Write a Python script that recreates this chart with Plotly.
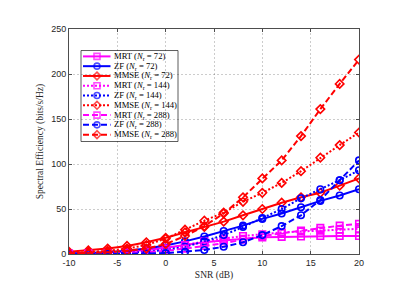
import plotly.graph_objects as go

snr = [-10, -8, -6, -4, -2, 0, 2, 4, 6, 8, 10, 12, 14, 16, 18, 20]

mrt_72 = [0.5, 1, 1.5, 3, 4.5, 7, 10, 13, 15, 17, 18.5, 19, 19.5, 20, 20, 20]
zf_72 = [0.5, 1, 2, 3.5, 6, 9.5, 14, 19.5, 25.5, 31.5, 39, 45, 52, 59, 65, 72]
mmse_72 = [2.5, 4, 6, 9, 13, 18, 24, 30, 36, 43, 50, 57, 63, 68, 76, 84]
mrt_144 = [0.3, 0.7, 1.2, 2.2, 3.5, 6, 10, 14, 17, 20, 22, 24, 25, 26, 27, 28]
zf_144 = [0.1, 0.3, 0.6, 1.2, 2.5, 4.5, 8, 14, 21, 30, 40, 50, 62, 72, 82, 93]
mmse_144 = [1, 2, 3.5, 6, 10, 17, 27, 37, 46, 58, 68, 79, 92, 107, 121, 135]
mrt_288 = [0.1, 0.3, 0.6, 1.2, 2, 3.5, 6, 9, 12, 16, 20, 23, 26, 29, 31.5, 33.5]
zf_288 = [0.02, 0.05, 0.1, 0.2, 0.5, 1, 2.5, 4.5, 8, 13, 21, 31, 43, 60, 82, 104]
mmse_288 = [0.5, 1, 2, 3.5, 6, 11, 20, 31, 45, 63, 84, 104, 131, 161, 189, 216]

x_ticks = [-10, -5, 0, 5, 10, 15, 20]
x_tick_text = ["-10", "-5", "0", "5", "10", "15", "20"]
y_ticks = [0, 50, 100, 150, 200, 250]
y_tick_text = ["0", "50", "100", "150", "200", "250"]

MAG, BLU, RED = "#ff00ff", "#0000ff", "#ff0000"
SOLID, DOT, DASH = "solid", "2px,2px", "6px,3px"

series = [
    ("MRT", 72, mrt_72, MAG, SOLID, "square-open"),
    ("ZF", 72, zf_72, BLU, SOLID, "circle-open"),
    ("MMSE", 72, mmse_72, RED, SOLID, "diamond-open"),
    ("MRT", 144, mrt_144, MAG, DOT, "square-open"),
    ("ZF", 144, zf_144, BLU, DOT, "circle-open"),
    ("MMSE", 144, mmse_144, RED, DOT, "diamond-open"),
    ("MRT", 288, mrt_288, MAG, DASH, "square-open"),
    ("ZF", 288, zf_288, BLU, DASH, "circle-open"),
    ("MMSE", 288, mmse_288, RED, DASH, "diamond-open"),
]

SERIF = "Liberation Serif, Times New Roman, serif"
SANS = "Liberation Sans, Arial, sans-serif"

fig = go.Figure()
for name, nr, vals, col, dash, sym in series:
    fig.add_trace(go.Scatter(
        x=snr, y=vals, mode="lines+markers", showlegend=False,
        line=dict(color=col, width=2, dash=dash),
        marker=dict(symbol=sym, size=6.5, color=col, line=dict(color=col, width=1.6)),
    ))

# custom legend in pixel-like coordinates (overlay axes)
L_X0, L_X1, L_Y0, L_Y1 = 73, 170, 43, 136
row0, row_step = 49, 10
fig.add_shape(type="rect", xref="x2", yref="y2", x0=L_X0, x1=L_X1, y0=L_Y0, y1=L_Y1,
              line=dict(color="#333333", width=0.8), fillcolor="white", layer="below")
for i, (name, nr, vals, col, dash, sym) in enumerate(series):
    ry = row0 + i * row_step
    fig.add_trace(go.Scatter(
        x=[75, 89, 102.5], y=[ry, ry, ry], xaxis="x2", yaxis="y2",
        mode="lines+markers", showlegend=False, hoverinfo="skip",
        line=dict(color=col, width=2, dash=dash),
        marker=dict(symbol=sym, size=[0, 6, 0], color=col, line=dict(color=col, width=1.6)),
    ))
    fig.add_annotation(xref="x2", yref="y2", x=103.5, y=ry, xanchor="left", yanchor="middle",
                       showarrow=False,
                       text=f"{name} (<i>N</i><sub>r</sub> = {nr})",
                       font=dict(family=SERIF, size=8.6, color="#000000"))

axis_common = dict(showline=True, linecolor="#4d4d4d", linewidth=1, mirror="ticks",
                   ticks="inside", ticklen=3, tickcolor="#4d4d4d",
                   showgrid=True, gridcolor="rgba(0,0,0,0.2)", griddash="2px,2px", gridwidth=1,
                   zeroline=False, tickfont=dict(family=SANS, size=9, color="#262626"))

fig.update_layout(
    width=399, height=282,
    margin=dict(l=61, r=48, t=21, b=31),
    paper_bgcolor="white", plot_bgcolor="white",
    xaxis=dict(range=[-10, 20], tickvals=x_ticks, ticktext=x_tick_text,
               title=dict(text="SNR (dB)", font=dict(family=SERIF, size=9.5, color="#262626"), standoff=4),
               **axis_common),
    yaxis=dict(range=[0, 250], tickvals=y_ticks, ticktext=y_tick_text,
               title=dict(text="Spectral Efficiency (bits/s/Hz)", font=dict(family=SERIF, size=9.5, color="#262626"), standoff=5),
               **axis_common),
    xaxis2=dict(overlaying="x", range=[61, 351], visible=False, fixedrange=True),
    yaxis2=dict(overlaying="y", range=[251, 21], visible=False, fixedrange=True),
)

fig.write_html("out.html")
